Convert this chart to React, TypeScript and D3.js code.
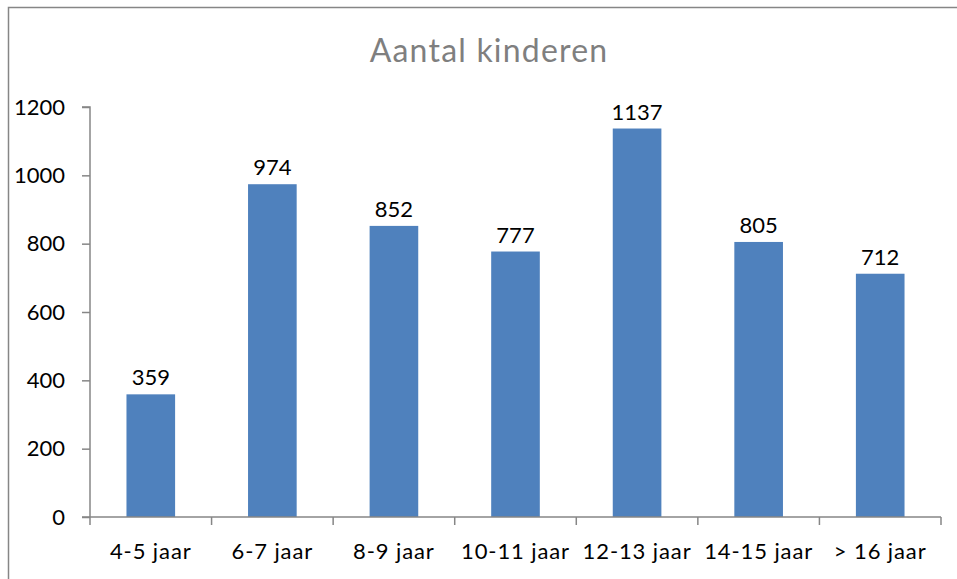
import React, { useRef, useEffect } from 'react';
import * as d3 from 'd3';

const categories = ['4-5 jaar', '6-7 jaar', '8-9 jaar', '10-11 jaar', '12-13 jaar', '14-15 jaar', '> 16 jaar'];
const values = [359, 974, 852, 777, 1137, 805, 712];
const yTicks = [0, 200, 400, 600, 800, 1000, 1200];
const title = 'Aantal kinderen';

const App = () => {
  const svgRef = useRef<SVGSVGElement>(null);

  useEffect(() => {
    const width = 957;
    const height = 579;
    const plot = { left: 90, right: 941, top: 107, bottom: 517 };
    const font = 'Lato, "Open Sans", sans-serif';

    const svg = d3.select(svgRef.current);
    svg.selectAll('*').remove();
    svg.attr('width', width).attr('height', height);

    // Outer chart border (runs off the right and bottom edges)
    svg
      .append('rect')
      .attr('x', 8.5)
      .attr('y', 7.5)
      .attr('width', width + 20)
      .attr('height', height + 20)
      .attr('fill', 'white')
      .attr('stroke', '#868686')
      .attr('stroke-width', 1.5);

    // Title
    svg
      .append('text')
      .attr('x', 489)
      .attr('y', 62)
      .attr('fill', '#7f7f7f')
      .attr('text-anchor', 'middle')
      .style('font-family', font)
      .style('font-size', '32px')
      .style('letter-spacing', '1.2px')
      .text(title);

    const x = d3.scaleBand().domain(categories).range([plot.left, plot.right]).paddingInner(0).paddingOuter(0);
    const y = d3.scaleLinear().domain([0, 1200]).range([plot.bottom, plot.top]);
    const barW = x.bandwidth() / 2.5;

    // Bars
    svg
      .append('g')
      .selectAll('rect')
      .data(values)
      .join('rect')
      .attr('x', (d, i) => x(categories[i])! + (x.bandwidth() - barW) / 2)
      .attr('y', (d) => y(d))
      .attr('width', barW)
      .attr('height', (d) => y(0) - y(d))
      .attr('fill', '#4f81bd');

    // Value labels
    svg
      .append('g')
      .selectAll('text')
      .data(values)
      .join('text')
      .attr('x', (d, i) => x(categories[i])! + x.bandwidth() / 2)
      .attr('y', (d) => y(d) - 9)
      .attr('text-anchor', 'middle')
      .attr('fill', 'black')
      .style('font-family', font)
      .style('font-size', '22px')
      .text((d) => d);

    // Y axis
    const yAxis = svg
      .append('g')
      .attr('transform', `translate(${plot.left},0)`)
      .call(d3.axisLeft(y).tickValues(yTicks).tickFormat(d3.format('d')).tickSize(8).tickPadding(17));
    yAxis.selectAll('path, line').attr('stroke', '#868686').attr('stroke-width', 1.5);
    yAxis.select('.domain').attr('d', `M-8,${plot.top}H0V${plot.bottom}`);
    yAxis
      .selectAll('text')
      .attr('fill', 'black')
      .style('font-family', font)
      .style('font-size', '22px');

    // X axis
    const xAxis = svg
      .append('g')
      .attr('transform', `translate(0,${plot.bottom})`)
      .call(d3.axisBottom(x).tickSize(0).tickPadding(26));
    xAxis.selectAll('.tick line').remove();
    xAxis.select('.domain').attr('d', `M${plot.left - 8},0H${plot.right}`).attr('stroke', '#868686').attr('stroke-width', 1.5);
    xAxis
      .selectAll('line.sep')
      .data([...categories.map((c) => x(c)!), plot.right])
      .join('line')
      .attr('class', 'sep')
      .attr('x1', (d) => d)
      .attr('x2', (d) => d)
      .attr('y1', 0)
      .attr('y2', 8)
      .attr('stroke', '#868686')
      .attr('stroke-width', 1.5);
    xAxis
      .selectAll('text')
      .attr('fill', 'black')
      .style('font-family', font)
      .style('font-size', '22px')
      .style('letter-spacing', '0.9px');
  }, []);

  return <svg ref={svgRef} style={{ position: 'absolute', left: 0, top: 0 }}></svg>;
};

export default App;
